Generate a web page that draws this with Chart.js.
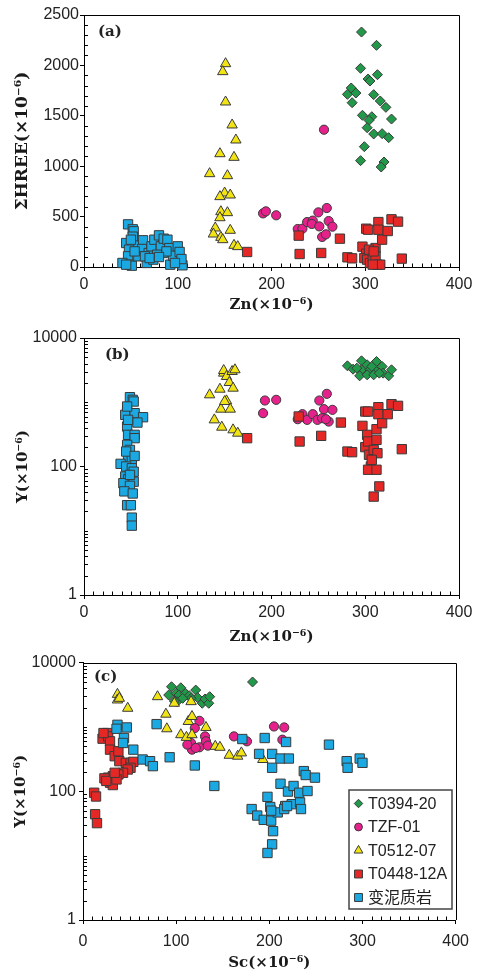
<!DOCTYPE html>
<html><head><meta charset="utf-8">
<script src="https://cdn.jsdelivr.net/npm/chart.js@4/dist/chart.umd.min.js"></script>
<style>
html,body{margin:0;padding:0;background:#fff;width:477px;height:979px;overflow:hidden}
canvas{position:absolute;left:0}
</style></head><body>
<canvas id="ca" width="477" height="320" style="top:0px"></canvas>
<canvas id="cb" width="477" height="330" style="top:320px"></canvas>
<canvas id="cc" width="477" height="329" style="top:650px"></canvas>
<script>
// ---- series ----
const seriesNames = ['T0394-20', 'TZF-01', 'T0512-07', 'T0448-12A', '变泥质岩'];
const seriesColors = ['#22994a', '#e6218c', '#f2e414', '#e52826', '#1aa9e2'];
const seriesStyles = ['rectRot', 'circle', 'triangle', 'rect', 'rect'];

// ---- tick labels ----
const znTicks = [0, 100, 200, 300, 400];
const scTicks = [0, 100, 200, 300, 400];
const hreeTicks = [0, 500, 1000, 1500, 2000, 2500];
const yLogTicks = [1, 100, 10000];

// ---- panel (a): Zn vs ΣHREE ----
const a_zn_T0394 = [296,312,295,303,305,313,285,281,290,286,309,316,322,297,307,304,328,302,309,318,325,299,295,320,317];
const a_hree_T0394 = [2331,2199,1971,1865,1845,1908,1776,1713,1726,1630,1710,1647,1584,1505,1491,1455,1468,1382,1320,1323,1283,1194,1055,1042,992];
const a_zn_TZF = [256,191,194,205,228,233,238,244,243,250,251,259,261,265,254,258];
const a_hree_TZF = [1362,532,552,513,377,380,446,460,427,542,403,585,456,400,298,324];
const a_zn_T0512 = [151,148,151,158,162,145,160,134,153,150,145,156,146,153,145,140,138,146,156,160,164,148];
const a_hree_T0512 = [2017,1938,1637,1409,1260,1124,1088,926,906,734,698,714,549,539,489,387,327,294,364,215,202,271];
const a_zn_T0448 = [174,229,230,253,273,281,286,297,301,303,301,299,302,305,308,311,314,314,318,311,313,316,308,324,328,335,339,304,309];
const a_hree_T0448 = [149,311,129,139,281,96,86,202,380,370,132,89,73,40,99,188,446,370,271,106,23,23,23,357,473,450,83,172,155];
const a_zn_meta = [47,52,53,52,45,48,47,41,49,51,45,58,63,62,67,69,72,75,80,84,82,85,89,91,92,95,100,102,105,104,78,74,88,58,54,65,70,80,97,50];
const a_hree_meta = [423,374,354,301,238,172,106,40,23,13,23,212,265,179,40,139,205,271,314,139,205,281,271,188,23,112,205,149,17,79,122,73,155,106,155,106,89,99,40,271];

// ---- panel (b): Zn vs Y ----
const b_zn_T0394 = [281,287,296,296,302,305,312,312,318,319,325,328,294,302,309,315,291,307];
const b_y_T0394 = [3690,3273,4415,3198,3826,3198,4310,3010,3604,2837,2577,3198,2577,2673,2673,2837,3395,3604];
const b_zn_TZF = [191,193,205,228,233,238,244,249,251,254,256,259,261,265,258];
const b_y_TZF = [676,1064,1090,545,652,532,652,532,1064,565,780,1352,501,762,545];
const b_zn_T0512 = [134,139,145,146,147,149,149,152,152,155,156,158,159,159,161,164,150];
const b_y_T0512 = [1304,532,1597,780,409,2837,3120,2518,1052,2029,780,3010,1656,372,3198,330,1026];
const b_zn_T0448 = [174,229,230,253,274,281,286,297,300,303,302,300,303,304,306,303,309,312,312,313,312,309,315,314,314,318,324,328,335,339,307];
const b_y_T0448 = [276,600,245,300,483,171,167,429,717,717,311,200,245,152,100,89,181,381,260,161,89,34,49,838,652,472,652,933,879,186,127];
const b_zn_meta = [49,52,53,46,44,54,63,57,46,47,54,54,46,49,47,51,39,45,51,53,44,47,53,42,49,43,52,46,50,51,51,46,47,45,54,49];
const b_y_meta = [1200,1090,1026,717,637,676,585,483,419,311,311,276,217,181,135,127,110,100,94,83,70,63,58,55,50,41,38,25,25,16,12,858,532,171,146,74];

// ---- panel (c): Sc vs Y ----
const c_sc_T0394 = [182,95,92,100,105,103,101,110,114,121,123,128,131,135,136,98,116,107];
const c_y_T0394 = [5000,4215,3134,3326,4064,3134,2473,3326,3061,3743,2852,2333,2718,2333,2953,2535,2786,2786];
const c_sc_TZF = [125,120,116,117,112,125,131,132,134,162,176,205,216,214,121];
const c_y_TZF = [1245,959,563,444,531,483,713,598,512,713,598,1018,982,634,472];
const c_sc_T0512 = [37,37,39,48,80,89,90,98,105,111,113,116,117,117,132,142,147,157,166,170,193];
const c_y_T0512 = [3209,2625,2786,1951,2953,1578,937,2333,757,689,1216,2473,1452,757,982,500,483,363,351,395,312];
const c_sc_T0448 = [12,14,13,15,21,26,27,29,29,34,38,39,46,51,54,51,48,43,38,32,27,23,29,32,36,25,34,22];
const c_y_T0448 = [95,83,44,32,657,804,713,598,444,351,419,294,277,277,287,232,218,194,183,172,163,159,136,125,153,145,194,804];
const c_sc_meta = [37,36,47,44,43,54,64,72,75,79,93,120,141,171,189,195,203,203,212,221,218,237,239,249,264,283,284,297,300,212,220,226,232,241,198,181,187,194,202,201,209,217,224,233,204,203,198,216,219,202,234];
const c_y_meta = [1080,937,982,673,563,444,312,294,246,1106,338,252,121,649,381,673,381,232,323,323,584,206,179,163,531,294,232,323,277,131,99,121,95,101,82,53,42,36,35,57,47,59,63,67,24,15,11,53,59,50,53];

// ---- helpers ----
const pts = (xs, ys) => xs.map((x, i) => ({x: x, y: ys[i]}));
const radii = [5, 4.6, 6, 6.6, 6.6];
function makeDatasets(pairs) {
  return pairs.map((p, i) => ({
    label: seriesNames[i],
    data: pts(p[0], p[1]),
    pointStyle: seriesStyles[i],
    pointRadius: radii[i],
    pointHoverRadius: radii[i],
    backgroundColor: seriesColors[i],
    borderColor: '#3a3a3a',
    pointBorderWidth: 1,
    borderWidth: 1,
    showLine: false,
    clip: false,
    order: 5 - i
  }));
}

const TICK_FONT = {family: '"Liberation Sans", Arial, sans-serif', size: 16};
const TITLE_FONT = {family: '"DejaVu Serif", serif', size: 15, weight: 'bold'};

function minorLinear(min, max, step, major) {
  const out = [];
  for (let v = min + step; v < max; v += step) if (v % major !== 0) out.push(v);
  return out;
}
function minorLog(lo, hi) {
  const out = [];
  for (let d = lo; d < hi; d *= 10) for (let m = 2; m <= 10; m++) { const v = m * d; if (v < hi && v !== 100) out.push(v); }
  return out;
}

const framePlugin = {
  id: 'frame',
  beforeDatasetsDraw(chart, args, opts) {
    const {ctx, chartArea: ca, scales} = chart;
    ctx.save();
    ctx.strokeStyle = '#000';
    ctx.lineWidth = 1;
    ctx.beginPath();
    ctx.moveTo(ca.left, Math.round(ca.top) + 0.5);
    ctx.lineTo(Math.round(ca.right) + 0.5, Math.round(ca.top) + 0.5);
    ctx.lineTo(Math.round(ca.right) + 0.5, ca.bottom);
    for (const v of opts.xMinor) {
      const px = Math.round(scales.x.getPixelForValue(v)) + 0.5;
      ctx.moveTo(px, ca.bottom); ctx.lineTo(px, ca.bottom - 3.5);
    }
    for (const v of opts.yMinor) {
      const py = Math.round(scales.y.getPixelForValue(v)) + 0.5;
      ctx.moveTo(ca.left, py); ctx.lineTo(ca.left + 4, py);
    }
    ctx.stroke();
    ctx.font = 'bold 15px "DejaVu Serif", serif';
    ctx.fillStyle = '#222';
    ctx.textBaseline = 'middle';
    ctx.fillText(opts.label, opts.lx, opts.ly);
    ctx.restore();
  }
};

const legendPlugin = {
  id: 'boxLegend',
  afterDatasetsDraw(chart, args, opts) {
    if (!opts.show) return;
    const ctx = chart.ctx;
    ctx.save();
    ctx.fillStyle = '#fff';
    ctx.fillRect(opts.x, opts.y, opts.w, opts.h);
    ctx.strokeStyle = '#444';
    ctx.lineWidth = 1.5;
    ctx.strokeRect(opts.x, opts.y, opts.w, opts.h);
    ctx.font = '16px "Liberation Sans", "Noto Sans CJK SC", sans-serif';
    ctx.textBaseline = 'middle';
    chart.data.datasets.forEach((ds, i) => {
      const cy = opts.y + opts.firstRow + i * opts.rowGap;
      ctx.fillStyle = ds.backgroundColor;
      ctx.strokeStyle = '#3a3a3a';
      ctx.lineWidth = 1;
      Chart.helpers.drawPoint(ctx, {pointStyle: ds.pointStyle, radius: ds.pointRadius * 0.85, rotation: 0, borderWidth: 1}, opts.x + 9.5, cy);
      ctx.fillStyle = '#222';
      ctx.fillText(ds.label, opts.x + 19, cy + 1);
    });
    ctx.restore();
  }
};

function makeChart(id, cfg) {
  const isLog = cfg.log;
  return new Chart(document.getElementById(id), {
    type: 'scatter',
    data: {datasets: makeDatasets(cfg.pairs)},
    plugins: [framePlugin, legendPlugin],
    options: {
      responsive: false,
      animation: false,
      devicePixelRatio: 1,
      layout: {padding: {left: 0, right: 18, top: cfg.padTop, bottom: 0}},
      plugins: {
        legend: {display: false},
        tooltip: {enabled: false},
        frame: {xMinor: minorLinear(0, 400, 10, 100), yMinor: isLog ? minorLog(1, 10000) : minorLinear(0, 2500, 100, 500), label: cfg.label, lx: cfg.lx, ly: cfg.ly},
        boxLegend: cfg.legend || {show: false}
      },
      scales: {
        x: {
          type: 'linear', min: 0, max: 400,
          afterBuildTicks: s => { s.ticks = cfg.xTicks.map(v => ({value: v})); },
          ticks: {color: '#222', font: TICK_FONT, padding: cfg.xPad, maxRotation: 0, autoSkip: false, callback: v => String(v)},
          grid: {drawOnChartArea: false, drawTicks: true, tickLength: 4, color: '#000'},
          border: {display: true, color: '#000', width: 1},
          title: {display: true, text: cfg.xTitle, color: '#1a1a1a', font: TITLE_FONT, padding: {top: 0, bottom: cfg.xTitlePad}},
          afterFit: s => { s.height = cfg.xH; }
        },
        y: {
          type: isLog ? 'logarithmic' : 'linear',
          min: isLog ? 1 : 0, max: isLog ? 10000 : 2500,
          afterBuildTicks: s => { s.ticks = cfg.yTicks.map(v => ({value: v})); },
          ticks: {color: '#222', font: TICK_FONT, padding: cfg.yPad, autoSkip: false, callback: v => String(v)},
          grid: {drawOnChartArea: false, drawTicks: true, tickLength: 4, color: '#000'},
          border: {display: true, color: '#000', width: 1},
          title: {display: true, text: cfg.yTitle, color: '#1a1a1a', font: cfg.yTitleFont || TITLE_FONT, padding: {top: cfg.yTitlePad, bottom: 0}},
          afterFit: s => { s.width = cfg.yW; }
        }
      }
    }
  });
}

makeChart('ca', {
  pairs: [[a_zn_T0394, a_hree_T0394], [a_zn_TZF, a_hree_TZF], [a_zn_T0512, a_hree_T0512], [a_zn_T0448, a_hree_T0448], [a_zn_meta, a_hree_meta]],
  log: false, xTicks: znTicks, yTicks: hreeTicks,
  xTitle: 'Zn(×10⁻⁶)', yTitle: 'ΣHREE(×10⁻⁶)',
  yTitleFont: {family: '"DejaVu Serif", serif', size: 17, weight: 'bold'},
  padTop: 15, xH: 53, yW: 84, xPad: 4, yPad: 1, xTitlePad: 6, yTitlePad: 12,
  label: '(a)', lx: 98, ly: 32
});
makeChart('cb', {
  pairs: [[b_zn_T0394, b_y_T0394], [b_zn_TZF, b_y_TZF], [b_zn_T0512, b_y_T0512], [b_zn_T0448, b_y_T0448], [b_zn_meta, b_y_meta]],
  log: true, xTicks: znTicks, yTicks: yLogTicks,
  xTitle: 'Zn(×10⁻⁶)', yTitle: 'Y(×10⁻⁶)',
  padTop: 18, xH: 55, yW: 84, xPad: 4, yPad: 3, xTitlePad: 4, yTitlePad: 14,
  label: '(b)', lx: 105, ly: 35
});
makeChart('cc', {
  pairs: [[c_sc_T0394, c_y_T0394], [c_sc_TZF, c_y_TZF], [c_sc_T0512, c_y_T0512], [c_sc_T0448, c_y_T0448], [c_sc_meta, c_y_meta]],
  log: true, xTicks: scTicks, yTicks: yLogTicks,
  xTitle: 'Sc(×10⁻⁶)', yTitle: 'Y(×10⁻⁶)',
  padTop: 11, xH: 59, yW: 83, xPad: 8, yPad: 3, xTitlePad: 7, yTitlePad: 12,
  label: '(c)', lx: 94, ly: 27,
  legend: {show: true, x: 349, y: 140, w: 103, h: 119, firstRow: 13.5, rowGap: 23.5}
});
</script>
</body></html>
